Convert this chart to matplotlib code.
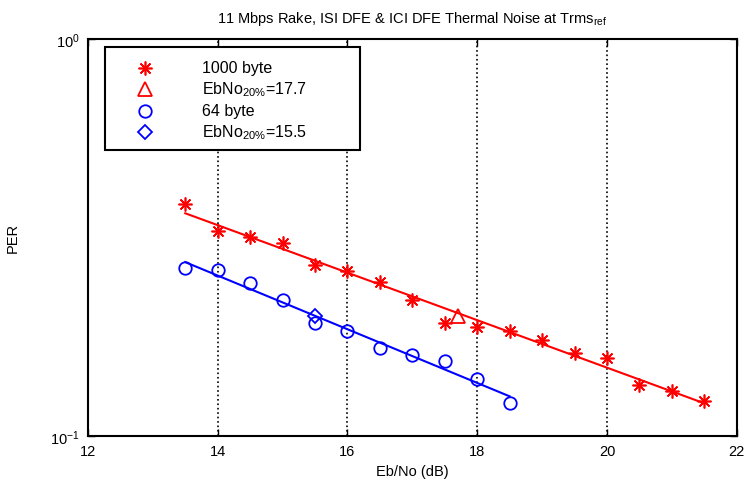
import numpy as np
import matplotlib
matplotlib.use("Agg")
import matplotlib.pyplot as plt
from matplotlib.ticker import NullLocator, FixedLocator
from matplotlib.patches import Rectangle

plt.rcParams['font.family'] = ['Liberation Sans', 'DejaVu Sans']
plt.rcParams['mathtext.fontset'] = 'custom'
plt.rcParams['mathtext.rm'] = 'Liberation Sans'
plt.rcParams['mathtext.it'] = 'Liberation Sans'
plt.rcParams['mathtext.default'] = 'regular'

# data
ebno_1000 = [13.5, 14.0, 14.5, 15.0, 15.5, 16.0, 16.5, 17.0, 17.5, 18.0,
             18.5, 19.0, 19.5, 20.0, 20.5, 21.0, 21.5]
per_1000 = [0.384, 0.329, 0.317, 0.306, 0.270, 0.260, 0.244, 0.220, 0.1925,
            0.188, 0.184, 0.1745, 0.162, 0.157, 0.134, 0.130, 0.1227]
ebno_64 = [13.5, 14.0, 14.5, 15.0, 15.5, 16.0, 16.5, 17.0, 17.5, 18.0, 18.5]
per_64 = [0.2646, 0.261, 0.2424, 0.2204, 0.1922, 0.1835, 0.1666, 0.1602,
          0.1543, 0.1392, 0.1211]
ebno20_1000 = 17.7
ebno20_64 = 15.5
per_target = 0.2


def fit_curve(x, y):
    # straight-line fit in log space, as drawn through the measured points
    coef = np.polyfit(x, np.log10(y), 1)
    xs = np.linspace(min(x), max(x), 50)
    return xs, 10 ** np.polyval(coef, xs)


fig = plt.figure(figsize=(7.45, 4.85), dpi=100)
ax = fig.add_axes([0.118, 0.099, 0.871, 0.819])

asterisk = (8, 2, 0)
star_style = dict(linestyle='none', marker=asterisk, markersize=10,
                  markeredgewidth=1.2, color='red')
tri_style = dict(linestyle='none', marker='^', markersize=10,
                 markerfacecolor='none', markeredgecolor='red',
                 markeredgewidth=1.3)
circ_style = dict(linestyle='none', marker='o', markersize=9,
                  markerfacecolor='none', markeredgecolor='blue',
                  markeredgewidth=1.3)
diam_style = dict(linestyle='none', marker='D', markersize=7,
                  markerfacecolor='none', markeredgecolor='blue',
                  markeredgewidth=1.3)

xs, ys = fit_curve(ebno_1000, per_1000)
ax.plot(xs, ys, color='red', linewidth=1.5)
ax.plot(ebno_1000, per_1000, **star_style)
ax.plot([ebno20_1000], [per_target], **tri_style)

xs, ys = fit_curve(ebno_64, per_64)
ax.plot(xs, ys, color='blue', linewidth=1.5)
ax.plot(ebno_64, per_64, **circ_style)
ax.plot([ebno20_64], [per_target], **diam_style)

ax.set_yscale('log')
ax.set_xlim(12, 22)
ax.set_ylim(0.1, 1)
ax.xaxis.set_major_locator(FixedLocator([12, 14, 16, 18, 20, 22]))
ax.yaxis.set_minor_locator(NullLocator())
ax.tick_params(direction='in', top=True, right=True, labelsize=10.5, length=5,
               width=1, pad=6)
ax.grid(True, axis='x', color='black', linestyle=':', linewidth=1.2)
for sp in ax.spines.values():
    sp.set_linewidth(1.5)

ax.set_xlabel('Eb/No (dB)', fontsize=10.5)
ax.set_ylabel('PER', fontsize=10.5, labelpad=22)
ax.set_title('11 Mbps Rake, ISI DFE & ICI DFE Thermal Noise at Trms$_{ref}$',
             fontsize=10.5, pad=12)

# legend box drawn by hand (MATLAB style, text all left aligned)
labels = ['1000 byte', 'EbNo$_{20\\%}$=' + f'{ebno20_1000:.1f}',
          '64 byte', 'EbNo$_{20\\%}$=' + f'{ebno20_64:.1f}']
styles = [star_style, tri_style, circ_style, diam_style]
ax.add_patch(Rectangle((0.026, 0.72), 0.393, 0.26, transform=ax.transAxes,
                       facecolor='white', edgecolor='black', linewidth=1.5,
                       zorder=5))
row_y = [0.927, 0.874, 0.819, 0.766]
for yy, lab, st in zip(row_y, labels, styles):
    ax.plot([0.088], [yy], transform=ax.transAxes, zorder=6, clip_on=False,
            **st)
    ax.text(0.176, yy, lab, transform=ax.transAxes, fontsize=11.5,
            va='center', ha='left', zorder=6)

fig.savefig('out.png', dpi=100)
